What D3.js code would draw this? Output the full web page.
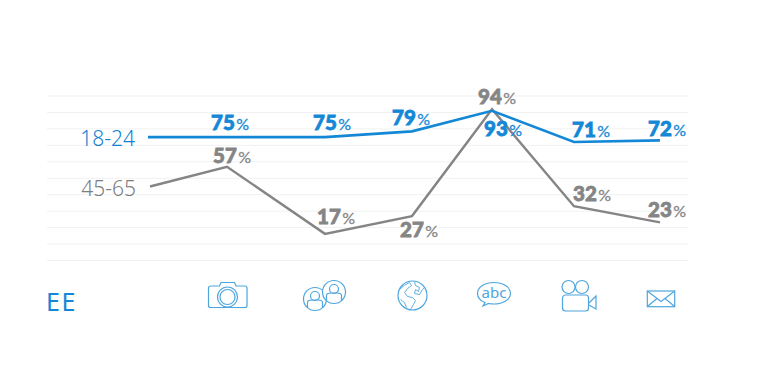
<!DOCTYPE html>
<html><head><meta charset="utf-8">
<script src="https://cdn.jsdelivr.net/npm/d3@7"></script>
<style>html,body{margin:0;background:#fff}svg{display:block}</style>
</head><body><svg id="c" width="768" height="385"></svg>
<script>
const categories = ["camera","people","web","text","video","mail"];
const seriesNames = ["18-24","45-65"];
const labels1824 = [75,75,79,93,71,72];
const labels4565 = [57,17,27,94,32,23];
// values as plotted by the line (lead-in point first)
const line1824 = [75,75,75,78.5,91,72,73];
const line4565 = [45,57,16.2,27,92,33,23.2];
const gridTicks = d3.range(0,101,10);

const svg=d3.select("#c");
const y=d3.scaleLinear().domain([0,100]).range([260.5,96]);
const x=d3.scaleOrdinal().domain(categories).range([227,325,412,492,574,660]);
const blue="#1488d6",gray="#858585",iconBlue="#4fa6de";
const font="Lato, sans-serif";

svg.append("g").selectAll("line").data(gridTicks).join("line")
  .attr("x1",47).attr("x2",688).attr("y1",d=>y(d)).attr("y2",d=>y(d))
  .attr("stroke","#f0f1f1").attr("stroke-width",1);

const lineGen=(x0)=>d3.line().x((d,i)=>i===0?x0:x(categories[i-1])).y(d=>y(d));
svg.append("path").datum(line4565).attr("d",lineGen(150)).attr("fill","none").attr("stroke",gray).attr("stroke-width",2.4);
svg.append("path").datum(line1824).attr("d",lineGen(148)).attr("fill","none").attr("stroke",blue).attr("stroke-width",2.6);

// series names
const nameFont="'Noto Sans', sans-serif";
svg.append("text").text(seriesNames[0]).attr("x",135).attr("y",145.5).attr("text-anchor","end")
  .attr("font-family",nameFont).attr("font-weight",300).attr("font-size",21).attr("fill","#0f82d2");
svg.append("text").text(seriesNames[1]).attr("x",136).attr("y",195.5).attr("text-anchor","end")
  .attr("font-family",nameFont).attr("font-weight",300).attr("font-size",21).attr("fill","#7d7d7d");

// value labels: offsets from each point
const off1824=[[-16,-7],[-12,-7],[-20,-6],[-8,25],[-2,-5],[-12,-4.4]];
const off4565=[[-14,-4],[-8,-9.4],[-12,21],[-14,-5],[-1,-5],[-12,-5.6]];
function valueLabels(vals,plot,offs,color){
  const g=svg.append("g");
  vals.forEach((v,i)=>{
    const t=g.append("text").attr("x",x(categories[i])+offs[i][0]).attr("y",y(plot[i+1])+offs[i][1])
      .attr("font-family",font).attr("fill",color);
    t.append("tspan").text(v).attr("font-size",20.5).attr("font-weight",900)
      .attr("stroke",color).attr("stroke-width",0.8);
    t.append("tspan").text("%").attr("dx",1.5).attr("font-size",16).attr("font-weight",400)
      .attr("stroke",color).attr("stroke-width",0.3);
  });
}
valueLabels(labels1824,line1824,off1824,blue);
valueLabels(labels4565,line4565,off4565,gray);

// EE
svg.append("text").text("EE").attr("x",46).attr("y",311).attr("font-family",nameFont)
  .attr("font-size",25).attr("font-weight",400).attr("letter-spacing",1.5).attr("fill",blue);

// icons
const icon={
 camera(g){
  g.append("path").attr("d","M-16.5,-10.5 H-8 L-6.5,-14 H7 L8.5,-10.5 H17.5 Q19.5,-10.5 19.5,-8.5 V9 Q19.5,11 17.5,11 H-17 Q-19,11 -19,9 V-8.5 Q-19,-10.5 -16.5,-10.5 Z");
  g.append("circle").attr("cx",0).attr("cy",0.5).attr("r",10);
  g.append("circle").attr("cx",0).attr("cy",0.5).attr("r",7.5);
 },
 people(g){
  [[-10,3,1],[9,-4,1]].forEach(([cx,cy])=>{
   const p=g.append("g").attr("transform",`translate(${cx},${cy})`);
   p.append("circle").attr("r",11.5).attr("fill","#fff");
   p.append("circle").attr("cy",-3).attr("r",4.5);
   p.append("path").attr("d","M-7.5,9 V3.5 Q-7.5,1 -3,1 H3 Q7.5,1 7.5,3.5 V9");
  });
 },
 web(g){
  g.append("circle").attr("r",14.5);
  g.append("path").attr("d","M-13,-6 Q-8,-11 -3,-13 L-1,-10 L-5,-7 L-8,-3 L-5,1 L0,2 L3,5 L1,9 L-2,14").attr("stroke-width",0.9);
  g.append("path").attr("d","M2,-14 L3,-10 L7,-8 L6,-4 L3,-6 L2,-2 L7,-1 L10,-6 L12,-8").attr("stroke-width",0.9);
  g.append("path").attr("d","M-12,4 L-8,7 L-6,12").attr("stroke-width",0.9);
 },
 text(g){
  g.append("path").attr("d","M-9,9.5 C-13,8 -16.5,5 -16.5,0.5 C-16.5,-6 -9,-10.5 0,-10.5 C9,-10.5 16.5,-6 16.5,0.5 C16.5,6.5 9,11 0,11 C-2,11 -4,10.8 -5.5,10.5 L-11,13 Z");
  g.append("text").text("abc").attr("x",0).attr("y",5).attr("text-anchor","middle")
   .attr("font-family",nameFont).attr("font-size",15).attr("fill",iconBlue).attr("stroke","none");
 },
 video(g){
  g.append("circle").attr("cx",-5.5).attr("cy",-11).attr("r",6.5);
  g.append("circle").attr("cx",8).attr("cy",-11).attr("r",6.5);
  g.append("rect").attr("x",-11.5).attr("y",-3).attr("width",26).attr("height",16).attr("rx",3);
  g.append("path").attr("d","M15,5 L22,-2 V11 L15,7");
 },
 mail(g){
  g.append("rect").attr("x",-12.7).attr("y",-7.5).attr("width",27.4).attr("height",15.7);
  g.append("path").attr("d","M-12.7,-7.5 L1,3 L14.7,-7.5 M-12.7,8 L-3,0 M14.7,8 L5,0");
 }
};
const iconY={camera:296.5,people:296,web:295.5,text:293,video:298,mail:298.5};
const iconDx={camera:0.5,people:0,web:0.5,text:2,video:0,mail:0};
categories.forEach(c=>{
  const g=svg.append("g").attr("transform",`translate(${x(c)+iconDx[c]},${iconY[c]})`)
    .attr("fill","none").attr("stroke",iconBlue).attr("stroke-width",1.2);
  icon[c](g);
});
</script></body></html>
